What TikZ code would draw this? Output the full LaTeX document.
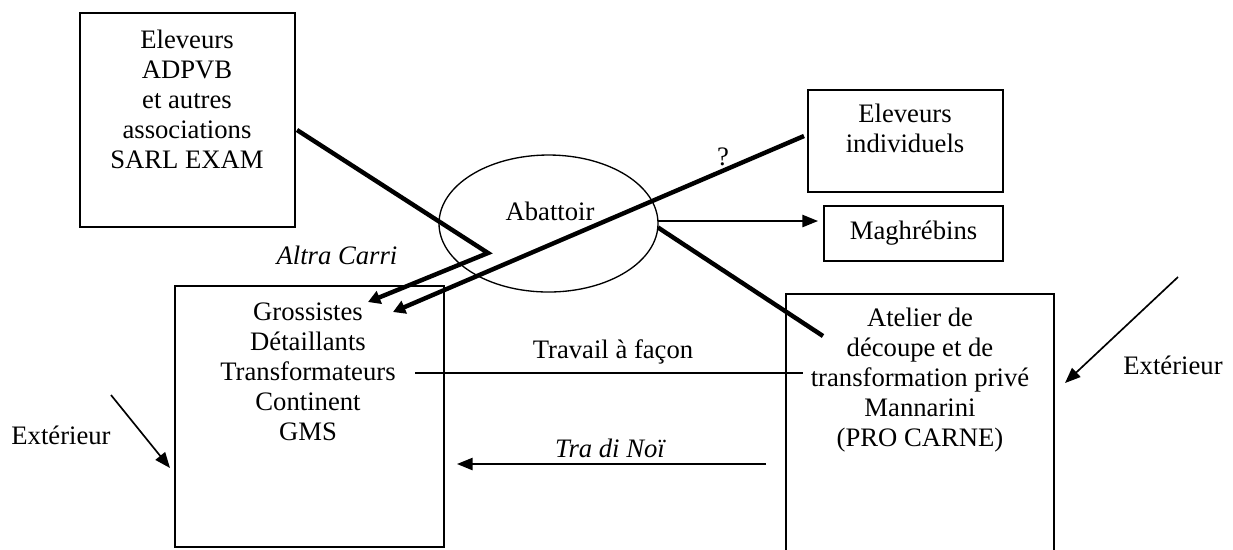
\documentclass[tikz,border=0pt]{standalone}
\usepackage{fontspec}
\setmainfont{Liberation Serif}
\usetikzlibrary{arrows.meta,shapes.geometric,calc}
\begin{document}
\begin{tikzpicture}[x=0.45pt,y=-0.45pt,
  boxst/.style={draw, line width=0.8pt, inner sep=0pt, outer sep=0pt, font=\fontsize{12}{13.5}\selectfont},
  txt/.style={align=center, inner sep=0pt, font=\fontsize{12}{13.5}\selectfont},
  ital/.style={align=center, inner sep=0pt, font=\fontsize{12}{13.5}\selectfont\itshape},
  thinline/.style={line width=0.75pt},
  heavy/.style={line width=2pt},
  thinarrow/.style={thinline, -{Triangle[length=7pt,width=5.5pt]}},
  heavyarrow/.style={heavy, -{Triangle[length=5.5pt,width=6pt]}}]
\useasboundingbox (0,0) rectangle (1233,549);
\clip (0,0) rectangle (1233,549);

% boxes
\node[boxst, minimum width=96.75pt, minimum height=96.3pt] (b1) at (187.5,120) {};
\node[txt] (t1) at (187,99) {Eleveurs\\ADPVB\\et autres\\associations\\SARL EXAM};
\node[boxst, minimum width=87.75pt, minimum height=45.9pt] (b3) at (905.5,141) {};
\node[txt] (t3) at (905,128.5) {Eleveurs\\individuels};
\node[boxst, minimum width=80.55pt, minimum height=24.75pt] (mg) at (913.5,233.5) {Maghrébins};
\node[boxst, minimum width=121.05pt, minimum height=117.45pt] (gr) at (309.5,416.5) {};
\node[txt] (t4) at (308,371.5) {Grossistes\\Détaillants\\Transformateurs\\Continent\\GMS};
\node[boxst, minimum width=120.6pt, minimum height=124.2pt] (at) at (920,432) {};
\node[txt] (t5) at (920,380) {Atelier de\\découpe et de\\transformation privé\\Mannarini\\(PRO CARNE)};
\node[draw, ellipse, line width=0.6pt, inner sep=0pt, outer sep=0pt, minimum width=98.55pt, minimum height=61.65pt] (ab) at (548.5,223.5) {};
\node[txt] (t2) at (550,211) {Abattoir};

% labels
\node[ital] (l1) at (337,255) {Altra Carri};
\node[txt] (l2) at (723,157) {?};
\node[txt] (l3) at (613,352) {Travail à façon};
\node[ital] (l4) at (610,448) {Tra di Noï};
\node[txt] (l5) at (61,435) {Extérieur};
\node[txt] (l6) at (1173,365) {Extérieur};

% coordinates
\coordinate (k1) at (488,253);
\coordinate (g1) at (368,302);
\coordinate (g2) at (393,312);
\coordinate (k2) at (823,336);
\coordinate (tf1) at (415,373);
\coordinate (tf2) at (803,373);
\coordinate (tn1) at (766,464);
\coordinate (tn2) at (457,464);
\coordinate (e1) at (111,395);
\coordinate (e2) at (170,468);
\coordinate (e3) at (1178,277);
\coordinate (e4) at (1065,383);

% connectors
\draw[heavyarrow] ($(b1.east)+(2,10)$) -- (k1) -- (g1);
\draw[heavyarrow] ($(b3.west)+(-4,-5)$) -- (g2);
\draw[heavy] ($(ab.east)+(0,4)$) -- (k2);
\draw[thinarrow] ($(ab.east)+(0,-2.5)$) -- ($(ab.east -| mg.west)+(-6,-2.5)$);
\draw[thinline] (tf1) -- (tf2);
\draw[thinarrow] (tn1) -- (tn2);
\draw[thinarrow] (e1) -- (e2);
\draw[thinarrow] (e3) -- (e4);
\end{tikzpicture}
\end{document}
